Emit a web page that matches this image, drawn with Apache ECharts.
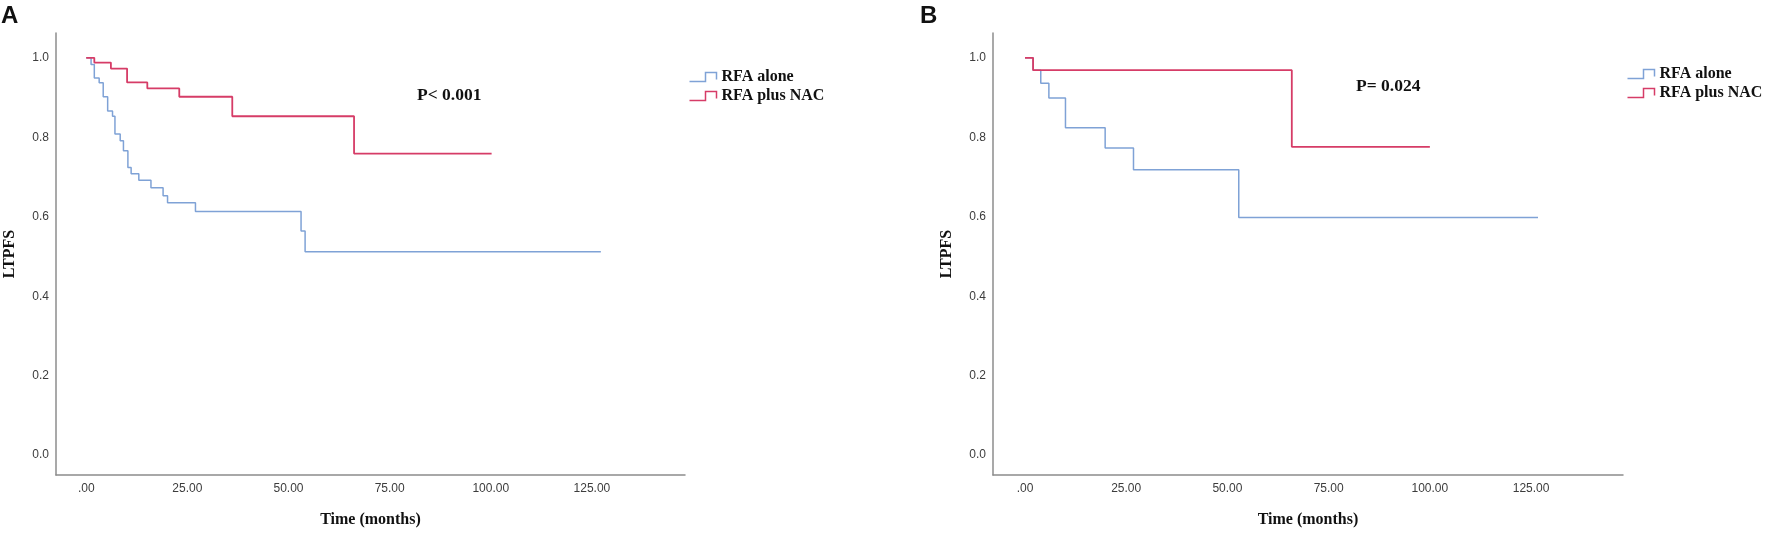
<!DOCTYPE html>
<html>
<head>
<meta charset="utf-8">
<title>LTPFS Kaplan-Meier</title>
<script src="https://cdn.jsdelivr.net/npm/echarts@6.0.0/dist/echarts.min.js"></script>
<style>
  html, body { margin: 0; padding: 0; background: #fff; }
  #main { width: 1772px; height: 533px; }
</style>
</head>
<body>
<div id="main"></div>
<script>
// ---- data (time in months, survival proportion) ----
var seriesNames = ['RFA alone', 'RFA plus NAC'];

var timeA_alone = [0, 1.2, 2.0, 3.2, 4.2, 5.3, 6.5, 7.1, 8.4, 9.2, 10.3, 11.1, 13.0, 16.0, 19.0, 20.1, 27.0, 53.1, 54.1, 127.2];
var survA_alone = [1.0, 0.983, 0.949, 0.937, 0.902, 0.866, 0.853, 0.808, 0.791, 0.766, 0.724, 0.708, 0.692, 0.673, 0.653, 0.635, 0.613, 0.564, 0.512, 0.512];
var timeA_nac = [0, 2.0, 6.1, 10.1, 15.1, 23.0, 36.1, 66.2, 100.2];
var survA_nac = [1.0, 0.988, 0.973, 0.938, 0.923, 0.902, 0.853, 0.759, 0.759];

var timeB_alone = [0, 2.0, 3.9, 5.9, 10.0, 19.8, 26.8, 52.8, 126.7];
var survB_alone = [1.0, 0.969, 0.936, 0.899, 0.824, 0.773, 0.718, 0.598, 0.598];
var timeB_nac = [0, 2.0, 65.9, 100.0];
var survB_nac = [1.0, 0.969, 0.776, 0.776];

var panelLabels = ['A', 'B'];
var pValues = ['P< 0.001', 'P= 0.024'];

var xTicks = [0, 25, 50, 75, 100, 125];
var xTickLabels = ['.00', '25.00', '50.00', '75.00', '100.00', '125.00'];
var yTicks = [0, 0.2, 0.4, 0.6, 0.8, 1.0];
var yTickLabels = ['0.0', '0.2', '0.4', '0.6', '0.8', '1.0'];

// ---- helpers ----
function zip(t, s) {
    var out = [];
    for (var i = 0; i < t.length; i++) out.push([t[i], s[i]]);
    return out;
}
function pickLabel(ticks, labels) {
    return function (v) {
        for (var i = 0; i < ticks.length; i++) {
            if (Math.abs(ticks[i] - v) < 1e-6) return labels[i];
        }
        return '';
    };
}

var blue = '#7fa2d6';
var red = '#d63c67';
var axisColor = '#8c8c8c';
var sans = 'Liberation Sans, Arial, sans-serif';
var serif = 'Liberation Serif, Times New Roman, serif';

function xAxisFor(idx, min, max) {
    return {
        type: 'value', gridIndex: idx, min: min, max: max,
        axisLine: { show: true, onZero: false, lineStyle: { color: axisColor, width: 1.5 } },
        axisTick: { show: false },
        splitLine: { show: false },
        axisLabel: {
            customValues: xTicks,
            formatter: pickLabel(xTicks, xTickLabels),
            color: '#3c3c3c', fontSize: 12, fontFamily: sans, margin: 8
        },
        name: 'Time (months)', nameLocation: 'middle', nameGap: 37,
        nameTextStyle: { color: '#111', fontSize: 16, fontWeight: 'bold', fontFamily: serif }
    };
}
function yAxisFor(idx) {
    return {
        type: 'value', gridIndex: idx, min: -0.05, max: 1.0625,
        axisLine: { show: true, onZero: false, lineStyle: { color: axisColor, width: 1.5 } },
        axisTick: { show: false },
        splitLine: { show: false },
        axisLabel: {
            customValues: yTicks,
            formatter: pickLabel(yTicks, yTickLabels),
            color: '#3c3c3c', fontSize: 12, fontFamily: sans, margin: 7
        },
        name: 'LTPFS', nameLocation: 'middle', nameGap: 38,
        nameTextStyle: { color: '#111', fontSize: 16, fontWeight: 'bold', fontFamily: serif }
    };
}
function kmLine(name, idx, data, color, width) {
    return {
        name: name, type: 'line', step: 'end',
        xAxisIndex: idx, yAxisIndex: idx,
        data: data, showSymbol: false, symbol: 'none',
        lineStyle: { color: color, width: width },
        itemStyle: { color: color },
        emphasis: { disabled: true },
        silent: true
    };
}
// small step-shaped legend key, stroked in the series colour
function legendItem(name, color) {
    return {
        name: name,
        icon: 'path://M0,9 L16,9 L16,0 L27,0 L27,7',
        itemStyle: { color: 'none', borderColor: color, borderWidth: 1.5 }
    };
}
function legendFor(left, top) {
    return {
        orient: 'vertical', left: left, top: top, padding: 0,
        data: [legendItem(seriesNames[0], blue), legendItem(seriesNames[1], red)],
        itemWidth: 27, itemHeight: 9, itemGap: 3,
        textStyle: { color: '#111', fontSize: 16, fontWeight: 'bold', fontFamily: serif },
        selectedMode: false
    };
}
function textBox(text, left, top, size, weight, family) {
    return {
        text: text, left: left, top: top, padding: 0,
        textStyle: { fontSize: size, fontWeight: weight, fontFamily: family, color: '#111' }
    };
}

var myChart = echarts.init(document.getElementById('main'));

var option = {
    animation: false,
    backgroundColor: '#ffffff',
    title: [
        textBox(panelLabels[0], 1, 4, 24, 'bold', sans),
        textBox(panelLabels[1], 920, 4, 24, 'bold', sans),
        textBox(pValues[0], 417, 86, 17.5, 'bold', serif),
        textBox(pValues[1], 1356, 77, 17.5, 'bold', serif)
    ],
    legend: [legendFor(687, 69), legendFor(1625, 66)],
    grid: [
        { left: 56, top: 33, width: 629, height: 445 },
        { left: 993, top: 33, width: 630, height: 445 }
    ],
    xAxis: [xAxisFor(0, -7.47, 148), xAxisFor(1, -7.9, 147.7)],
    yAxis: [yAxisFor(0), yAxisFor(1)],
    series: [
        kmLine(seriesNames[0], 0, zip(timeA_alone, survA_alone), blue, 1.5),
        kmLine(seriesNames[1], 0, zip(timeA_nac, survA_nac), red, 1.8),
        kmLine(seriesNames[0], 1, zip(timeB_alone, survB_alone), blue, 1.5),
        kmLine(seriesNames[1], 1, zip(timeB_nac, survB_nac), red, 1.8)
    ]
};

myChart.setOption(option);
</script>
</body>
</html>
